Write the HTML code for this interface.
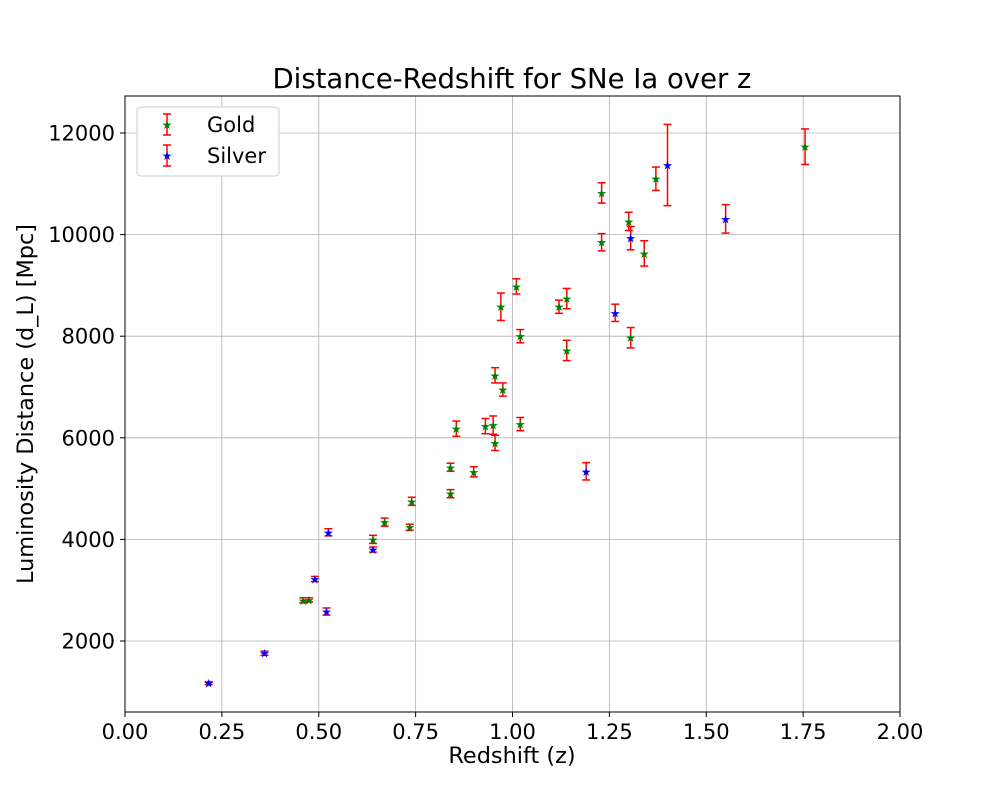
<!DOCTYPE html>
<html><head><meta charset="utf-8"><style>
html,body{margin:0;padding:0;background:#fff;}
svg{display:block;font-family:"DejaVu Sans","Liberation Sans",sans-serif;}
</style></head><body>
<svg id="chart" width="1000" height="800" xmlns="http://www.w3.org/2000/svg">
<rect width="1000" height="800" fill="#fff"/>
<text x="512" y="88" text-anchor="middle" font-size="27.5">Distance-Redshift for SNe Ia over z</text>
<g id="grid"></g>
<g id="ticks"></g>
<g id="marks"></g>
<rect x="125" y="96" width="775" height="616" fill="none" stroke="#000" stroke-width="1"/>
<text x="512" y="763" text-anchor="middle" font-size="22.4">Redshift (z)</text>
<text transform="translate(33,404) rotate(-90)" text-anchor="middle" font-size="22.4">Luminosity Distance (d_L) [Mpc]</text>
<g>
<rect x="137" y="107" width="142" height="69" rx="4" fill="#fff" stroke="#ccc"/>
<g>
<line x1="167" y1="114" x2="167" y2="135" stroke="red" stroke-width="1.5"/>
<line x1="163" y1="114" x2="171" y2="114" stroke="red" stroke-width="1.5"/>
<line x1="163" y1="135" x2="171" y2="135" stroke="red" stroke-width="1.5"/>
<text x="167" y="129" text-anchor="middle" font-size="12" fill="green">★</text>
<text x="207" y="132" font-size="21">Gold</text>
</g>
<g>
<line x1="167" y1="145" x2="167" y2="166" stroke="red" stroke-width="1.5"/>
<line x1="163" y1="145" x2="171" y2="145" stroke="red" stroke-width="1.5"/>
<line x1="163" y1="166" x2="171" y2="166" stroke="red" stroke-width="1.5"/>
<text x="167" y="160" text-anchor="middle" font-size="12" fill="blue">★</text>
<text x="207" y="163" font-size="21">Silver</text>
</g>
</g>
</svg>
<script>
const goldZ=[0.46,0.475,0.64,0.67,0.735,0.74,0.84,0.84,0.855,0.9,0.93,0.95,0.955,0.955,0.97,0.975,1.01,1.02,1.02,1.12,1.14,1.14,1.23,1.23,1.30,1.305,1.34,1.37,1.755];
const goldD=[2800,2810,4000,4340,4240,4750,4900,5420,6180,5330,6230,6250,5900,7230,8580,6950,8980,8000,6270,8580,8740,7720,9850,10820,10260,7970,9630,11100,11730];
const goldErr=[50,40,80,80,60,80,80,80,150,100,150,180,150,150,270,130,150,130,130,130,200,200,170,200,180,200,250,230,350];
const silverZ=[0.216,0.36,0.49,0.52,0.525,0.64,1.19,1.265,1.305,1.40,1.55];
const silverD=[1170,1760,3220,2580,4140,3800,5340,8460,9930,11370,10310];
const silverErr=[30,40,50,70,70,50,170,170,230,800,280];
const xTicks=[0,0.25,0.5,0.75,1.0,1.25,1.5,1.75,2.0];
const xTickLabels=["0.00","0.25","0.50","0.75","1.00","1.25","1.50","1.75","2.00"];
const yTicks=[2000,4000,6000,8000,10000,12000];
const yTickLabels=["2000","4000","6000","8000","10000","12000"];

const NS="http://www.w3.org/2000/svg";
const xS=v=>125+v*387.5;
const yS=v=>641-(v-2000)*0.0508;
function mk(tag,attrs,parent){const e=document.createElementNS(NS,tag);for(const k in attrs)e.setAttribute(k,attrs[k]);parent.appendChild(e);return e;}
const grid=document.getElementById('grid'),ticks=document.getElementById('ticks'),marks=document.getElementById('marks');
xTicks.forEach((t,i)=>{
  const x=xS(t);
  const g=mk('line',{x1:x,x2:x,y1:96,y2:712,stroke:'#b0b0b0','stroke-width':0.8},grid);
  
  
  mk('line',{x1:x,x2:x,y1:712,y2:717,stroke:'#000'},ticks);
  const l=mk('text',{x:x,y:739,'text-anchor':'middle','font-size':'21'},ticks);
  l.textContent=xTickLabels[i];
  
  
});
yTicks.forEach((t,i)=>{
  const y=yS(t);
  const g=mk('line',{x1:125,x2:900,y1:y,y2:y,stroke:'#b0b0b0','stroke-width':0.8},grid);
  
  
  mk('line',{x1:120,x2:125,y1:y,y2:y,stroke:'#000'},ticks);
  const l=mk('text',{x:115,y:y+7.5,'text-anchor':'end','font-size':'21'},ticks);
  l.textContent=yTickLabels[i];
  
  
});
function series(zs,ds,es,color,name){
  zs.forEach((z,i)=>{
    const x=xS(z),y=yS(ds[i]),y1=yS(ds[i]-es[i]),y2=yS(ds[i]+es[i]);
    const g=mk('g',{},marks);
    
    
    mk('line',{x1:x,x2:x,y1:y1,y2:y2,stroke:'red','stroke-width':1.5},g);
    mk('line',{x1:x-4,x2:x+4,y1:y1,y2:y1,stroke:'red','stroke-width':1.5},g);
    mk('line',{x1:x-4,x2:x+4,y1:y2,y2:y2,stroke:'red','stroke-width':1.5},g);
    const s=mk('text',{x:x,y:y+4.5,'text-anchor':'middle','font-size':'12',fill:color},g);
    s.textContent='★';
  });
}
series(goldZ,goldD,goldErr,'green','gold');
series(silverZ,silverD,silverErr,'blue','silver');
</script>
</body></html>
